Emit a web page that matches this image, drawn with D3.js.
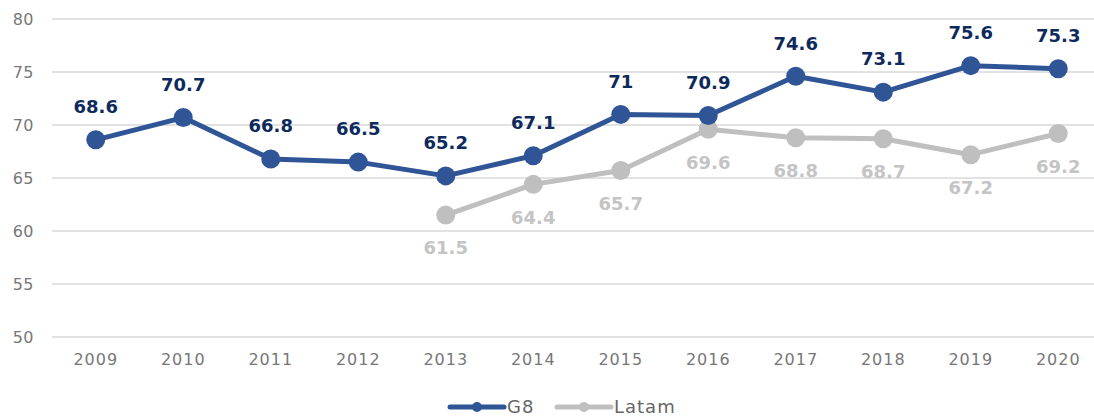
<!DOCTYPE html>
<html>
<head>
<meta charset="utf-8">
<script src="https://cdn.jsdelivr.net/npm/d3@7"></script>
<style>
  body { margin: 0; background: #fff; }
  svg { display: block; font-family: "DejaVu Sans", sans-serif; }
</style>
</head>
<body>
<div id="chart"></div>
<script>
// data
var years = ["2009","2010","2011","2012","2013","2014","2015","2016","2017","2018","2019","2020"];
var g8 = [68.6, 70.7, 66.8, 66.5, 65.2, 67.1, 71, 70.9, 74.6, 73.1, 75.6, 75.3];
var latam = [null, null, null, null, 61.5, 64.4, 65.7, 69.6, 68.8, 68.7, 67.2, 69.2];
var yTicks = [50, 55, 60, 65, 70, 75, 80];

var width = 1094, height = 419;

var svg = d3.select("#chart")
    .append("svg")
    .attr("width", width)
    .attr("height", height);

var x = d3.scaleBand()
    .domain(years)
    .range([52, 1102]);

var y = d3.scaleLinear()
    .domain([50, 80])
    .range([337, 19]);

function cx(d, i) { return x(years[i]) + x.bandwidth() / 2; }

// gridlines + y labels
svg.append("g")
    .selectAll("line")
    .data(yTicks)
    .enter()
    .append("line")
    .attr("x1", 52)
    .attr("x2", width)
    .attr("y1", function(d) { return y(d); })
    .attr("y2", function(d) { return y(d); })
    .attr("stroke", "#d9d9d9")
    .attr("stroke-width", 1.5);

svg.append("g")
    .selectAll("text")
    .data(yTicks)
    .enter()
    .append("text")
    .attr("x", 34)
    .attr("y", function(d) { return y(d); })
    .attr("dy", "0.35em")
    .attr("text-anchor", "end")
    .attr("fill", "#777")
    .style("font-size", "16px")
    .style("letter-spacing", "0.5px")
    .text(function(d) { return d; });

// x axis labels
svg.append("g")
    .attr("transform", "translate(0,359)")
    .call(d3.axisBottom(x).tickSize(0).tickPadding(0))
    .call(function(g) { g.select(".domain").remove(); })
    .selectAll("text")
    .attr("dy", "0.35em")
    .attr("fill", "#777")
    .style("font-size", "16px")
    .style("letter-spacing", "1px")
    .style("font-family", "DejaVu Sans, sans-serif");

var line = d3.line()
    .defined(function(d) { return d != null; })
    .x(cx)
    .y(function(d) { return y(d); });

function drawSeries(vals, color, labelColor, labelDy) {
    svg.append("path")
        .datum(vals)
        .attr("fill", "none")
        .attr("stroke", color)
        .attr("stroke-width", 5)
        .attr("stroke-linejoin", "round")
        .attr("d", line);

    var pts = vals.map(function(v, i) { return {v: v, i: i}; })
        .filter(function(d) { return d.v != null; });

    svg.append("g")
        .selectAll("circle")
        .data(pts)
        .enter()
        .append("circle")
        .attr("cx", function(d) { return cx(d.v, d.i); })
        .attr("cy", function(d) { return y(d.v); })
        .attr("r", 9.5)
        .attr("fill", color);

    svg.append("g")
        .selectAll("text")
        .data(pts)
        .enter()
        .append("text")
        .attr("x", function(d) { return cx(d.v, d.i); })
        .attr("y", function(d) { return y(d.v) + labelDy; })
        .attr("dy", "0.35em")
        .attr("text-anchor", "middle")
        .attr("fill", labelColor)
        .style("font-size", "18px")
        .style("font-weight", "bold")
        .text(function(d) { return d.v; });
}

drawSeries(latam, "#bfbfbf", "#c4c4c4", 33);
drawSeries(g8, "#2f5597", "#0e2a5c", -33);

// legend
var legend = [
    {name: "G8", color: "#2f5597", x0: 450},
    {name: "Latam", color: "#bfbfbf", x0: 557}
];
var lg = svg.append("g").selectAll("g")
    .data(legend)
    .enter()
    .append("g")
    .attr("transform", function(d) { return "translate(" + d.x0 + ",407)"; });
lg.append("line")
    .attr("x1", 0).attr("x2", 54)
    .attr("stroke", function(d) { return d.color; })
    .attr("stroke-width", 5)
    .attr("stroke-linecap", "round");
lg.append("circle")
    .attr("cx", 27)
    .attr("r", 5)
    .attr("fill", function(d) { return d.color; });
lg.append("text")
    .attr("x", 57)
    .attr("dy", "0.35em")
    .attr("fill", "#666")
    .style("font-size", "18px")
    .style("letter-spacing", "1px")
    .text(function(d) { return d.name; });
</script>
</body>
</html>
